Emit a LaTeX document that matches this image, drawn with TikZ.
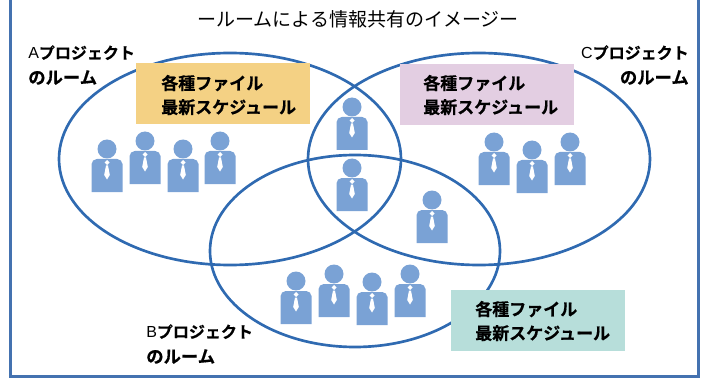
\documentclass[tikz,border=0pt]{standalone}
\usepackage{fontspec}
\setmainfont{Noto Sans CJK JP}[BoldFont = {Noto Sans CJK JP Bold}, BoldFeatures = {FakeBold = 0.6}]
\newfontfamily\latinfont{Liberation Sans}
\definecolor{roomblue}{HTML}{2F6AB1}
\definecolor{frameblue}{HTML}{4472B0}
\definecolor{personblue}{HTML}{7AA2D5}
\definecolor{fileorange}{HTML}{F4D184}
\definecolor{filepurple}{HTML}{E3CEE2}
\definecolor{fileteal}{HTML}{B7DEDA}
\begin{document}
\begin{tikzpicture}[
		x = 0.75pt,
		y = -0.75pt,
		room/.style = {
			draw = roomblue,
			line width = 2pt
		},
		filebox/.style = {
			minimum width = 130.5pt,
			minimum height = 45.75pt,
			inner sep = 0pt
		},
		filetext/.style = {
			font = \fontsize{12.75pt}{18pt}\selectfont\bfseries,
			align = left,
			inner sep = 0pt,
			anchor = west
		},
		roomtext/.style = {
			font = \fontsize{12pt}{18.75pt}\selectfont\bfseries,
			inner sep = 0pt
		},
		person/.pic = {
			\fill[personblue] (0, 0) circle (9.5);
			\fill[personblue] (-15.5, 43) [rounded corners = 4pt] -- (-15.5, 10) -- (15.5, 10) -- (15.5, 20) [sharp corners] -- (15.5, 43) -- cycle;
			\fill[white] (0, 11) -- (2.5, 13.5) -- (0, 16) -- (-2.5, 13.5) -- cycle;
			\fill[white] (-1, 16.5) -- (1, 16.5) -- (2.8, 26) -- (0, 30.5) -- (-2.8, 26) -- cycle;
		}
	]
	\useasboundingbox (0, 0) rectangle (704, 378);
	\draw[frameblue, line width = 2.25pt] (10, -10) rectangle (698, 376.5);
	% rooms
	\draw[room] (230, 159) ellipse (171 and 106);
	\draw[room] (479, 159) ellipse (171 and 106);
	\draw[room] (355, 251) ellipse (145 and 96);
	% file boxes
	\node[filebox, fill = fileorange] (fileA) at (223, 93.5) {};
	\node[filebox, fill = filepurple] (fileC) at (487, 94.5) {};
	\node[filebox, fill = fileteal] (fileB) at (538, 320.5) {};
	\node[filetext] (textA) at (161, 95) {各種ファイル\\最新スケジュール};
	\node[filetext] (textC) at (423, 95) {各種ファイル\\最新スケジュール};
	\node[filetext] (textB) at (475, 321) {各種ファイル\\最新スケジュール};
	% people
	\foreach \px/\py in {107/149, 145/141, 183/149, 220/141, 352/107, 352/168, 432/200, 494/142, 532/150, 570/142, 296/281, 334/274, 372/282, 410/274} {
		\pic at (\px, \py) {person};
	}
	% labels
	\node[font = \fontsize{14.25pt}{18pt}\selectfont, inner sep = 0pt] (title) at (358, 19) {ールームによる情報共有のイメージー};
	\node[roomtext, anchor = west, align = left] (roomA) at (28, 65) {{\latinfont\mdseries A}プロジェクト\\{\fontsize{13pt}{18.75pt}\selectfont のルーム}};
	\node[roomtext, anchor = east, align = right] (roomC) at (689, 65) {{\latinfont\mdseries C}プロジェクト\\{\fontsize{13pt}{18.75pt}\selectfont のルーム}};
	\node[roomtext, anchor = west, align = left] (roomB) at (146, 344) {{\latinfont\mdseries B}プロジェクト\\{\fontsize{13pt}{18.75pt}\selectfont のルーム}};
\end{tikzpicture}
\end{document}
